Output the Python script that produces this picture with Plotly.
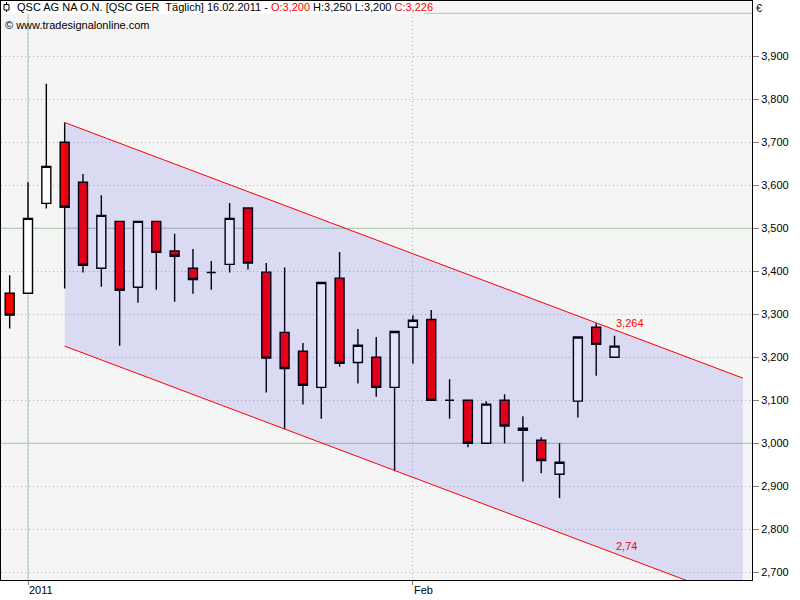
import plotly.graph_objects as go

# ---------------- data ----------------
dates = ["2010-12-30",
         "2011-01-03", "2011-01-04", "2011-01-05", "2011-01-06", "2011-01-07",
         "2011-01-10", "2011-01-11", "2011-01-12", "2011-01-13", "2011-01-14",
         "2011-01-17", "2011-01-18", "2011-01-19", "2011-01-20", "2011-01-21",
         "2011-01-24", "2011-01-25", "2011-01-26", "2011-01-27", "2011-01-28",
         "2011-01-31",
         "2011-02-01", "2011-02-02", "2011-02-03", "2011-02-04",
         "2011-02-07", "2011-02-08", "2011-02-09", "2011-02-10", "2011-02-11",
         "2011-02-14", "2011-02-15", "2011-02-16"]
opens = [3.349, 3.349, 3.558, 3.700, 3.607, 3.407, 3.516, 3.363, 3.516, 3.447,
         3.407, 3.397, 3.416, 3.547, 3.398, 3.258, 3.214, 3.130, 3.384, 3.188,
         3.200, 3.130, 3.270, 3.288, 3.100, 3.100, 3.000, 3.100, 3.030, 3.007,
         2.928, 3.098, 3.270, 3.200]
highs = [3.391, 3.607, 3.836, 3.746, 3.626, 3.577, 3.516, 3.516, 3.516, 3.487,
         3.452, 3.424, 3.559, 3.547, 3.419, 3.409, 3.233, 3.374, 3.445, 3.266,
         3.247, 3.260, 3.298, 3.310, 3.149, 3.100, 3.098, 3.114, 3.063, 3.014,
         3.000, 3.247, 3.279, 3.250]
lows = [3.267, 3.349, 3.546, 3.360, 3.397, 3.364, 3.227, 3.327, 3.357, 3.329,
        3.348, 3.357, 3.397, 3.404, 3.118, 3.033, 3.090, 3.057, 3.178, 3.139,
        3.108, 2.935, 3.185, 3.100, 3.057, 2.991, 3.000, 3.000, 2.911, 2.930,
        2.873, 3.060, 3.157, 3.200]
closes = [3.298, 3.523, 3.644, 3.549, 3.414, 3.530, 3.356, 3.516, 3.444, 3.435,
          3.381, 3.397, 3.523, 3.419, 3.198, 3.174, 3.135, 3.374, 3.186, 3.228,
          3.130, 3.260, 3.286, 3.100, 3.100, 3.000, 3.091, 3.040, 3.035, 2.960,
          2.956, 3.247, 3.230, 3.226]

# regression channel (upper line anchored at the high of 2011-01-05)
channel_start_date = "2011-01-05"
channel_upper_start = 3.746
channel_upper_last = 3.264     # value at last bar
channel_lower_last = 2.744     # value at last bar
channel_extend_bars = 7        # bars projected to the right

y_ticks = [2.7, 2.8, 2.9, 3.0, 3.1, 3.2, 3.3, 3.4, 3.5, 3.6, 3.7, 3.8, 3.9]
y_major = [3.0, 3.5, 4.0]
x_tick_dates = ["2011-01-03", "2011-02-01"]
x_tick_labels = ["2011", "Feb"]

title_main = "QSC AG NA O.N. [QSC GER  Täglich] 16.02.2011 - "
# ---------------------------------------

idx = list(range(len(dates)))
k0 = dates.index(channel_start_date)
k_last = len(dates) - 1
slope = (channel_upper_last - channel_upper_start) / (k_last - k0)
width = channel_upper_last - channel_lower_last
k_end = k_last + channel_extend_bars
up_end = channel_upper_last + slope * channel_extend_bars
lo_start = channel_upper_start - width
lo_end = up_end - width


def fmt(v, d=3):
    return f"{v:.{d}f}".replace(".", ",")


fig = go.Figure()
fig.add_trace(go.Candlestick(
    x=idx, open=opens, high=highs, low=lows, close=closes,
    increasing=dict(line=dict(color="black", width=1.4), fillcolor="white"),
    decreasing=dict(line=dict(color="black", width=1.4), fillcolor="#FF0000"),
    whiskerwidth=0, hoverinfo="skip", showlegend=False,
))
# channel fill overlay
fig.add_trace(go.Scatter(
    x=[k0, k_end, k_end, k0, k0],
    y=[channel_upper_start, up_end, lo_end, lo_start, channel_upper_start],
    fill="toself", fillcolor="rgba(0,0,215,0.11)", mode="none",
    hoverinfo="skip", showlegend=False,
))
# channel lines
for a, b in [(channel_upper_start, up_end), (lo_start, lo_end)]:
    fig.add_trace(go.Scatter(
        x=[k0, k_end], y=[a, b], mode="lines",
        line=dict(color="#FF0000", width=1), hoverinfo="skip", showlegend=False,
    ))

L, R, T, B = 1, 48, 1, 20
W, H = 800, 600
pw, ph = W - L - R, H - T - B


def px(x):
    return (x - L) / pw


def py(y):
    return 1 - (y - T) / ph


shapes = []
for v in y_major:
    shapes.append(dict(type="line", xref="paper", x0=0, x1=1, yref="y", y0=v, y1=v,
                       line=dict(color="#A9CDA9", width=1), layer="between"))
shapes.append(dict(type="line", yref="paper", y0=0, y1=1, xref="x",
                   x0=dates.index(x_tick_dates[0]), x1=dates.index(x_tick_dates[0]),
                   line=dict(color="#A9CDA9", width=1), layer="between"))
# white header box behind the title line
shapes.append(dict(type="rect", xref="paper", yref="paper", x0=0, x1=px(424),
                   y0=py(14), y1=1, fillcolor="white", line=dict(width=0), layer="above"))
# small candle icon
shapes.append(dict(type="line", xref="paper", yref="paper", x0=px(6.5), x1=px(6.5),
                   y0=py(12), y1=py(2), line=dict(color="black", width=1), layer="above"))
shapes.append(dict(type="rect", xref="paper", yref="paper", x0=px(4), x1=px(9),
                   y0=py(10), y1=py(4.5), fillcolor="white",
                   line=dict(color="black", width=1), layer="above"))

font = dict(family="Liberation Sans, Arial, sans-serif", size=11, color="black")
annotations = [
    dict(xref="paper", yref="paper", x=px(16), y=py(7.5), xanchor="left", yanchor="middle",
         showarrow=False, borderpad=0, font=font,
         text=(title_main
               + f"<span style='color:#FF0000'>O:{fmt(opens[-1])}</span> "
               + f"H:{fmt(highs[-1])} L:{fmt(lows[-1])} "
               + f"<span style='color:#FF0000'>C:{fmt(closes[-1])}</span>")),
    dict(xref="paper", yref="paper", x=px(4), y=py(25.5), xanchor="left", yanchor="middle",
         showarrow=False, borderpad=0, font=font, text="© www.tradesignalonline.com"),
    dict(xref="paper", yref="paper", x=px(755), y=py(8), xanchor="left", yanchor="middle",
         showarrow=False, borderpad=0, font=font, text="€"),
    dict(xref="x", yref="y", x=k_last, y=channel_upper_last, xanchor="left",
         yanchor="bottom", showarrow=False, borderpad=0,
         font=dict(family=font["family"], size=11, color="#FF0000"),
         text=fmt(channel_upper_last)),
    dict(xref="x", yref="y", x=k_last, y=channel_lower_last, xanchor="left",
         yanchor="bottom", showarrow=False, borderpad=0,
         font=dict(family=font["family"], size=11, color="#FF0000"),
         text=fmt(channel_lower_last, 2)),
]

fig.update_layout(
    width=W, height=H, margin=dict(l=L, r=R, t=T, b=B),
    paper_bgcolor="white", plot_bgcolor="#F5F5F5",
    showlegend=False, hovermode=False, font=font,
    shapes=shapes, annotations=annotations,
    xaxis=dict(
        range=[-0.473, 40.5], rangeslider=dict(visible=False),
        tickvals=[dates.index(d) for d in x_tick_dates], ticktext=x_tick_labels,
        ticks="outside", ticklen=4, tickcolor="#808080",
        ticklabelposition="outside right",
        showgrid=True, gridcolor="#B4B4B4", griddash="1px,3px", gridwidth=1,
        showline=True, linecolor="black", linewidth=1, mirror=True,
        zeroline=False, fixedrange=True, automargin=False,
    ),
    yaxis=dict(
        range=[2.682, 4.0286], side="right",
        tickvals=y_ticks, ticktext=[fmt(v) for v in y_ticks],
        ticks="outside", ticklen=6, tickcolor="#808080",
        showgrid=True, gridcolor="#B4B4B4", griddash="1px,3px", gridwidth=1,
        showline=True, linecolor="black", linewidth=1, mirror=True,
        zeroline=False, fixedrange=True, automargin=False,
    ),
)

fig.write_html("out.html", config={"displayModeBar": False},
               post_script="document.body.style.margin='0';document.body.style.overflow='hidden';")
